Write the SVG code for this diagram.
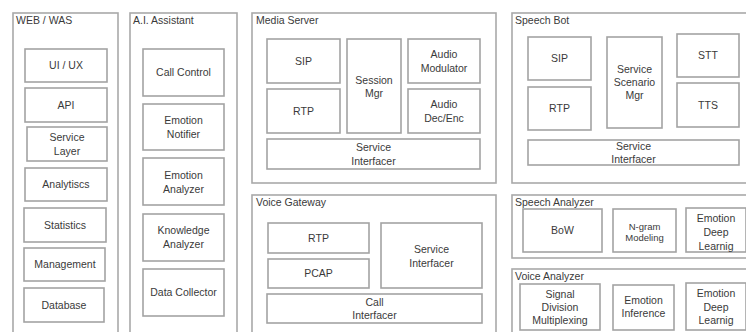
<svg xmlns="http://www.w3.org/2000/svg" width="746" height="332" viewBox="0 0 746 332">
<style>
  .bg { fill: #ffffff; }
  .outer { fill: #ffffff; stroke: #a9a9a9; stroke-width: 1.6; }
  .inner { fill: #ffffff; stroke: #a3a3a3; stroke-width: 1.6; }
  text { font-family: "Liberation Sans", "Open Sans", sans-serif; fill: #3a3a3a; }
  .t { font-size: 10.5px; text-anchor: middle; }
  .s { font-size: 9.5px; text-anchor: middle; }
  .h { font-size: 10.5px; text-anchor: start; }
</style>
<rect class="bg" x="0" y="0" width="746" height="332"/>

<g id="web-was">
  <rect class="outer" x="13" y="13" width="105" height="325"/>
  <text class="h" x="16" y="24">WEB / WAS</text>
  <g id="ui-ux"><rect class="inner" x="25" y="49" width="82" height="33"/><text class="t" x="66" y="69">UI / UX</text></g>
  <g id="api"><rect class="inner" x="25" y="88" width="82" height="34"/><text class="t" x="66" y="109">API</text></g>
  <g id="service-layer"><rect class="inner" x="27" y="127" width="80" height="34"/><text class="t" x="67" y="141">Service</text><text class="t" x="67" y="155">Layer</text></g>
  <g id="analytics"><rect class="inner" x="25" y="168" width="82" height="33"/><text class="t" x="66" y="188">Analytiscs</text></g>
  <g id="statistics"><rect class="inner" x="24" y="208" width="82" height="34"/><text class="t" x="65" y="229">Statistics</text></g>
  <g id="management"><rect class="inner" x="24" y="248" width="81" height="33"/><text class="t" x="65" y="268">Management</text></g>
  <g id="database"><rect class="inner" x="24" y="288" width="80" height="34"/><text class="t" x="64" y="309">Database</text></g>
</g>

<g id="ai-assistant">
  <rect class="outer" x="130" y="13" width="107" height="325"/>
  <text class="h" x="133" y="24">A.I. Assistant</text>
  <g id="call-control"><rect class="inner" x="143" y="49" width="81" height="47"/><text class="t" x="183.5" y="76">Call Control</text></g>
  <g id="emotion-notifier"><rect class="inner" x="143" y="104" width="81" height="46"/><text class="t" x="183.5" y="124">Emotion</text><text class="t" x="183.5" y="138">Notifier</text></g>
  <g id="emotion-analyzer"><rect class="inner" x="143" y="158" width="81" height="47"/><text class="t" x="183.5" y="179">Emotion</text><text class="t" x="183.5" y="193">Analyzer</text></g>
  <g id="knowledge-analyzer"><rect class="inner" x="143" y="214" width="81" height="47"/><text class="t" x="183.5" y="234">Knowledge</text><text class="t" x="183.5" y="248">Analyzer</text></g>
  <g id="data-collector"><rect class="inner" x="143" y="269" width="81" height="47"/><text class="t" x="183.5" y="296">Data Collector</text></g>
</g>

<g id="media-server">
  <rect class="outer" x="252" y="13" width="244" height="170"/>
  <text class="h" x="256" y="24">Media Server</text>
  <g id="ms-sip"><rect class="inner" x="267" y="39" width="73" height="44"/><text class="t" x="303.5" y="65">SIP</text></g>
  <g id="ms-rtp"><rect class="inner" x="267" y="89" width="73" height="44"/><text class="t" x="303.5" y="115">RTP</text></g>
  <g id="session-mgr"><rect class="inner" x="347" y="39" width="54" height="94"/><text class="t" x="374" y="84">Session</text><text class="t" x="374" y="97">Mgr</text></g>
  <g id="audio-modulator"><rect class="inner" x="408" y="39" width="72" height="44"/><text class="t" x="444" y="58">Audio</text><text class="t" x="444" y="72">Modulator</text></g>
  <g id="audio-dec-enc"><rect class="inner" x="408" y="89" width="72" height="44"/><text class="t" x="444" y="108">Audio</text><text class="t" x="444" y="122">Dec/Enc</text></g>
  <g id="ms-service-interfacer"><rect class="inner" x="267" y="139" width="213" height="30"/><text class="t" x="373.5" y="151">Service</text><text class="t" x="373.5" y="165">Interfacer</text></g>
</g>

<g id="voice-gateway">
  <rect class="outer" x="252" y="195" width="244" height="145"/>
  <text class="h" x="256" y="206">Voice Gateway</text>
  <g id="vg-rtp"><rect class="inner" x="268" y="223" width="101" height="30"/><text class="t" x="318.5" y="242">RTP</text></g>
  <g id="pcap"><rect class="inner" x="268" y="259" width="101" height="29"/><text class="t" x="318.5" y="277">PCAP</text></g>
  <g id="vg-service-interfacer"><rect class="inner" x="381" y="223" width="101" height="65"/><text class="t" x="431.5" y="253">Service</text><text class="t" x="431.5" y="267">Interfacer</text></g>
  <g id="call-interfacer"><rect class="inner" x="267" y="294" width="215" height="29"/><text class="t" x="374.5" y="306">Call</text><text class="t" x="374.5" y="319">Interfacer</text></g>
</g>

<g id="speech-bot">
  <rect class="outer" x="512" y="13" width="240" height="170"/>
  <text class="h" x="515" y="24">Speech Bot</text>
  <g id="sb-sip"><rect class="inner" x="528" y="37" width="63" height="43"/><text class="t" x="559.5" y="62">SIP</text></g>
  <g id="sb-rtp"><rect class="inner" x="528" y="87" width="63" height="43"/><text class="t" x="559.5" y="112">RTP</text></g>
  <g id="service-scenario-mgr"><rect class="inner" x="607" y="37" width="55" height="91"/><text class="t" x="634.5" y="73">Service</text><text class="t" x="634.5" y="86">Scenario</text><text class="t" x="634.5" y="99">Mgr</text></g>
  <g id="stt"><rect class="inner" x="677" y="34" width="62" height="43"/><text class="t" x="708" y="59">STT</text></g>
  <g id="tts"><rect class="inner" x="677" y="83" width="62" height="44"/><text class="t" x="708" y="109">TTS</text></g>
  <g id="sb-service-interfacer"><rect class="inner" x="528" y="140" width="211" height="25"/><text class="t" x="633.5" y="150">Service</text><text class="t" x="633.5" y="163">Interfacer</text></g>
</g>

<g id="speech-analyzer">
  <rect class="outer" x="512" y="195" width="240" height="63"/>
  <text class="h" x="515" y="206">Speech Analyzer</text>
  <g id="bow"><rect class="inner" x="523" y="209" width="79" height="43"/><text class="t" x="562.5" y="234">BoW</text></g>
  <g id="n-gram-modeling"><rect class="inner" x="613" y="209" width="63" height="43"/><text class="s" x="644.5" y="230">N-gram</text><text class="s" x="644.5" y="241">Modeling</text></g>
  <g id="sa-emotion-deep-learnig"><rect class="inner" x="686" y="208" width="60" height="44"/><text class="t" x="716" y="222">Emotion</text><text class="t" x="716" y="236">Deep</text><text class="t" x="716" y="250">Learnig</text></g>
</g>

<g id="voice-analyzer">
  <rect class="outer" x="512" y="269" width="240" height="70"/>
  <text class="h" x="515" y="280">Voice Analyzer</text>
  <g id="signal-division-multiplexing"><rect class="inner" x="520" y="284" width="80" height="46"/><text class="t" x="560" y="298">Signal</text><text class="t" x="560" y="311">Division</text><text class="t" x="560" y="324">Multiplexing</text></g>
  <g id="emotion-inference"><rect class="inner" x="613" y="285" width="61" height="45"/><text class="t" x="643.5" y="304">Emotion</text><text class="t" x="643.5" y="317">Inference</text></g>
  <g id="va-emotion-deep-learnig"><rect class="inner" x="686" y="283" width="60" height="47"/><text class="t" x="716" y="297">Emotion</text><text class="t" x="716" y="311">Deep</text><text class="t" x="716" y="324">Learnig</text></g>
</g>

<g id="connectors"></g>
</svg>
